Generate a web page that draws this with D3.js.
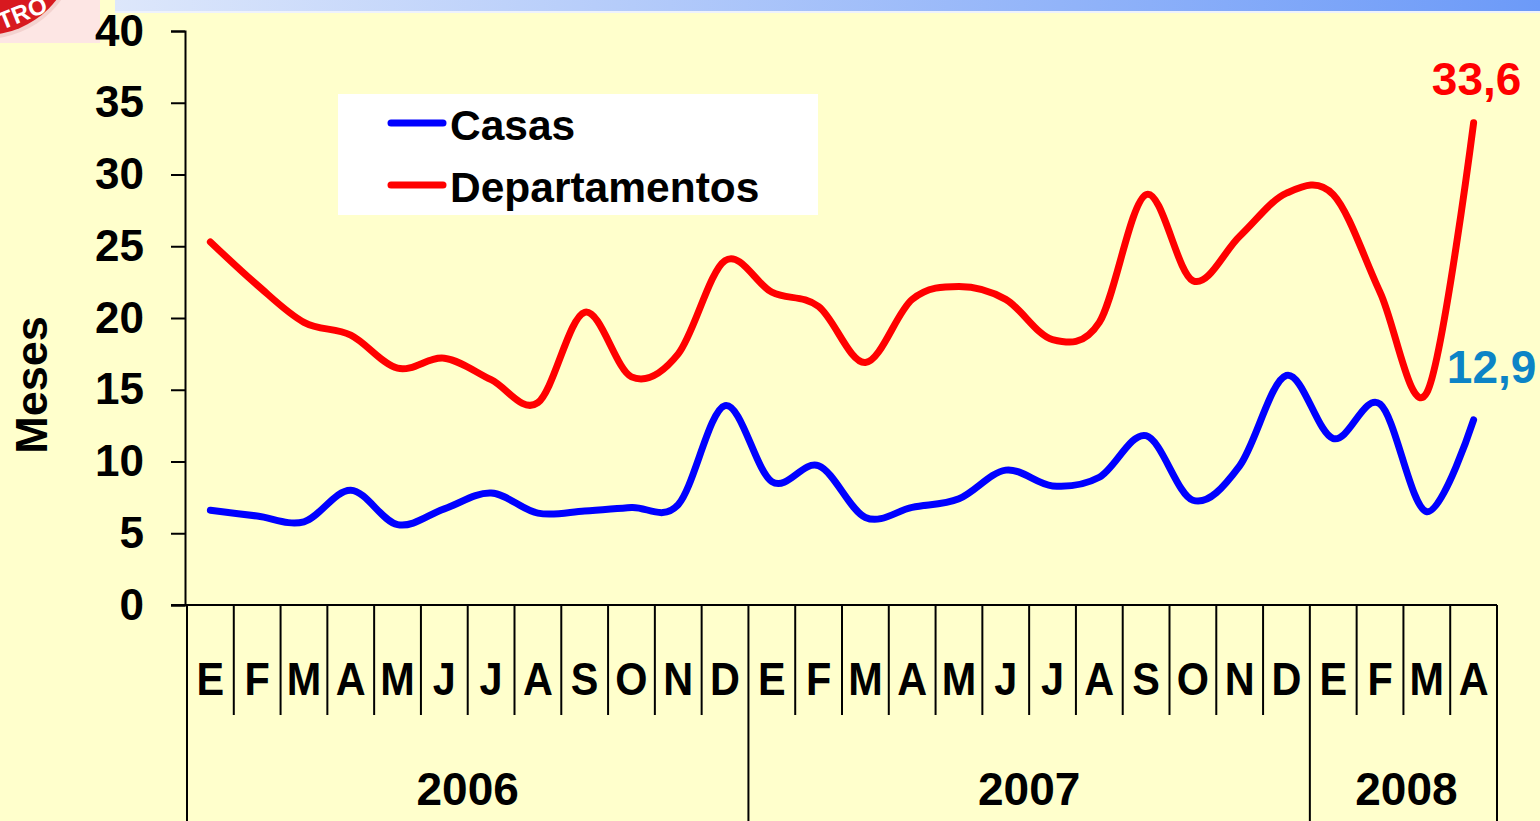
<!DOCTYPE html>
<html>
<head>
<meta charset="utf-8">
<script src="https://cdn.jsdelivr.net/npm/d3@7"></script>
<style>
  body { margin: 0; background: #ffffcc; overflow: hidden; }
  text { font-family: "Liberation Sans", Arial, sans-serif; font-weight: bold; }
</style>
</head>
<body>
<script>
// months (E = enero ... D = diciembre), Jan 2006 - Apr 2008
var months = ["E","F","M","A","M","J","J","A","S","O","N","D",
              "E","F","M","A","M","J","J","A","S","O","N","D",
              "E","F","M","A"]
var years = ["2006", "2007", "2008"]
var yearCounts = [12, 12, 4]

// meses para vender
var casas = [6.6, 6.2, 5.8, 8.0, 5.6, 6.7, 7.8, 6.4, 6.55, 6.8, 7.0, 13.9,
             8.6, 9.7, 6.1, 6.8, 7.4, 9.4, 8.3, 8.9, 11.8, 7.3, 9.7, 16.0,
             11.6, 14.0, 6.5, 12.9]
var departamentos = [25.3, 22.3, 19.7, 18.8, 16.5, 17.2, 15.7, 14.1, 20.4, 15.9, 17.5, 24.0,
                     21.8, 20.8, 16.9, 21.3, 22.2, 21.3, 18.5, 19.7, 28.6, 22.6, 25.7, 28.7,
                     28.6, 21.8, 14.8, 33.6]
var yTicks = [0, 5, 10, 15, 20, 25, 30, 35, 40]

var width = 1540, height = 821

var svg = d3.select("body").append("svg")
  .attr("width", width)
  .attr("height", height)

svg.append("rect").attr("width", width).attr("height", height).attr("fill", "#ffffcc")

// top banner gradient
var defs = svg.append("defs")
var grad = defs.append("linearGradient").attr("id", "banner")
grad.append("stop").attr("offset", "0%").attr("stop-color", "#dde7fb")
grad.append("stop").attr("offset", "100%").attr("stop-color", "#6c9af8")
svg.append("rect").attr("x", 115).attr("y", 0).attr("width", width - 115).attr("height", 12)
  .attr("fill", "url(#banner)")
svg.append("rect").attr("x", 115).attr("y", 11).attr("width", width - 115).attr("height", 2)
  .attr("fill", "#eef2fc")

// logo corner
var clip = defs.append("clipPath").attr("id", "logoclip")
clip.append("rect").attr("width", 100).attr("height", 43)
var logo = svg.append("g").attr("clip-path", "url(#logoclip)")
logo.append("rect").attr("width", 100).attr("height", 43).attr("fill", "#fde6e4")
logo.append("circle").attr("cx", -15).attr("cy", -55).attr("r", 94).attr("fill", "#f3d2cf")
logo.append("circle").attr("cx", -15).attr("cy", -55).attr("r", 90).attr("fill", "#d8191f")
logo.append("text").attr("transform", "translate(2,30) rotate(-22)")
  .attr("fill", "#ffffff").attr("font-size", 24).text("TRO")

// scales
var x = d3.scaleBand().domain(d3.range(months.length)).range([187, 1497])
var y = d3.scaleLinear().domain([0, 40]).range([605, 31])

// y axis
var yAxis = svg.append("g")
  .attr("transform", "translate(185,0)")
  .call(d3.axisLeft(y).tickValues(yTicks).tickSize(14).tickPadding(27))
yAxis.select(".domain").attr("stroke", "#000").attr("stroke-width", 2)
yAxis.selectAll(".tick line").attr("stroke", "#000").attr("stroke-width", 2)
yAxis.selectAll(".tick text")
  .attr("font-size", 44)
  .attr("font-family", "Liberation Sans, Arial, sans-serif")
  .attr("font-weight", "bold")
  .attr("fill", "#000")

svg.append("text")
  .attr("transform", "translate(47,385) rotate(-90)")
  .attr("text-anchor", "middle")
  .attr("font-size", 45)
  .text("Meses")

// x axis line
svg.append("line")
  .attr("x1", 171).attr("x2", x.range()[1])
  .attr("y1", y(0)).attr("y2", y(0))
  .attr("stroke", "#000").attr("stroke-width", 2)

// month separators
var boundaries = d3.range(months.length + 1)
var yearStarts = [0]
yearCounts.forEach(function(c, i) { yearStarts.push(yearStarts[i] + c) })

svg.selectAll(".sep").data(boundaries).enter().append("line")
  .attr("class", "sep")
  .attr("x1", function(d) { return x.range()[0] + d * x.step() })
  .attr("x2", function(d) { return x.range()[0] + d * x.step() })
  .attr("y1", y(0))
  .attr("y2", function(d) { return yearStarts.includes(d) ? height : 715 })
  .attr("stroke", "#000").attr("stroke-width", 2)

svg.selectAll(".month").data(months).enter().append("text")
  .attr("class", "month")
  .attr("x", function(d, i) { return x(i) + x.bandwidth() / 2 })
  .attr("y", 695)
  .attr("text-anchor", "middle")
  .attr("font-size", 46)
  .attr("transform", function(d, i) {
    var cx = x(i) + x.bandwidth() / 2
    return "translate(" + cx + ",0) scale(0.9,1) translate(" + (-cx) + ",0)"
  })
  .text(function(d) { return d })

svg.selectAll(".year").data(years).enter().append("text")
  .attr("class", "year")
  .attr("x", function(d, i) { return x.range()[0] + (yearStarts[i] + yearCounts[i] / 2) * x.step() + (i == 2 ? 3 : 0) })
  .attr("y", 805)
  .attr("text-anchor", "middle")
  .attr("font-size", 46)
  .text(function(d) { return d })

// lines
var line = d3.line()
  .x(function(d, i) { return x(i) + x.bandwidth() / 2 })
  .y(function(d) { return y(d) })
  .curve(d3.curveCardinal.tension(0))

svg.append("path").datum(departamentos)
  .attr("d", line)
  .attr("fill", "none").attr("stroke", "#ff0000").attr("stroke-width", 7)
  .attr("stroke-linecap", "round").attr("stroke-linejoin", "round")

svg.append("path").datum(casas)
  .attr("d", line)
  .attr("fill", "none").attr("stroke", "#0000ff").attr("stroke-width", 7)
  .attr("stroke-linecap", "round").attr("stroke-linejoin", "round")

// end value labels
var last = months.length - 1
svg.append("text")
  .attr("x", x(last) + x.bandwidth() / 2 + 3)
  .attr("y", y(departamentos[last]) - 28)
  .attr("text-anchor", "middle")
  .attr("font-size", 46)
  .attr("fill", "#ff0000")
  .text(String(departamentos[last]).replace(".", ","))

svg.append("text")
  .attr("x", x(last) + x.bandwidth() / 2 + 18)
  .attr("y", y(casas[last]) - 37)
  .attr("text-anchor", "middle")
  .attr("font-size", 46)
  .attr("fill", "#0c84c6")
  .text(String(casas[last]).replace(".", ","))

// legend
var legend = svg.append("g")
legend.append("rect").attr("x", 338).attr("y", 94).attr("width", 480).attr("height", 121)
  .attr("fill", "#ffffff")
var series = [["Casas", "#0000ff"], ["Departamentos", "#ff0000"]]
series.forEach(function(s, i) {
  var ly = 123 + i * 62
  legend.append("line")
    .attr("x1", 391).attr("x2", 443).attr("y1", ly).attr("y2", ly)
    .attr("stroke", s[1]).attr("stroke-width", 7).attr("stroke-linecap", "round")
  legend.append("text")
    .attr("x", 450).attr("y", ly + 17)
    .attr("font-size", 42.5)
    .text(s[0])
})
</script>
</body>
</html>
